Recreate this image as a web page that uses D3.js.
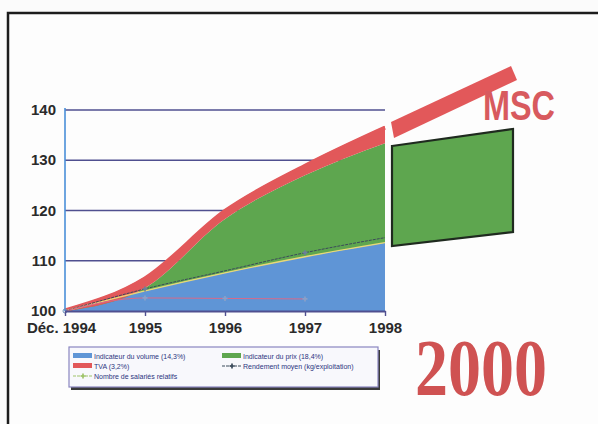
<!DOCTYPE html>
<html>
<head>
<meta charset="utf-8">
<script src="https://cdn.jsdelivr.net/npm/d3@7"></script>
<style>
  body { margin: 0; background: #fbfbfb; }
  svg { display: block; }
</style>
</head>
<body>
<svg width="598" height="424"></svg>
<script>
// data
let years = ["Déc. 1994", "1995", "1996", "1997", "1998"];
let yTicks = [100, 110, 120, 130, 140];
// cumulative tops of the stacked areas (index base 100)
let volumeTop = [100, 104, 107.6, 110.8, 113.6];
let prixTop = [100, 104.6, 118.3, 127, 133.4];
let tvaTop = [100.4, 106.8, 120.2, 129.2, 136.8];
// thin lines
let rendement = [100, 104.4, 108, 111.6, 114.6];
let salaries = [100, 102.6, 102.5, 102.4];
let legendLabels = [
  ["Indicateur du volume (14,3%)", "Indicateur du prix (18,4%)"],
  ["TVA (3,2%)", "Rendement moyen (kg/exploitation)"],
  ["Nombre de salariés relatifs", null]
];

const width = 598;
const height = 424;

let svg = d3.select("svg");

// outer frame
svg.append("rect")
  .attr("x", 8).attr("y", 13)
  .attr("width", 610).attr("height", 430)
  .attr("fill", "#fdfdfd")
  .attr("stroke", "#1c1c1c")
  .attr("stroke-width", 2.5);

let xScale = d3.scalePoint()
  .domain(years)
  .range([65, 385]);

let yScale = d3.scaleLinear()
  .domain([100, 140])
  .range([311, 110]);

// gridlines behind everything
svg.append("g")
  .selectAll("line")
  .data(yTicks.slice(1))
  .enter()
  .append("line")
    .attr("x1", xScale(years[0]))
    .attr("x2", xScale(years[years.length - 1]))
    .attr("y1", d => yScale(d))
    .attr("y2", d => yScale(d))
    .attr("stroke", "#4f4f8f")
    .attr("stroke-width", 1.6);

let idx = years.map((d, i) => i);
let curve = d3.curveMonotoneX;

function band(lower, upper) {
  return d3.area()
    .curve(curve)
    .x(i => xScale(years[i]))
    .y0(i => yScale(lower ? lower[i] : 100))
    .y1(i => yScale(upper[i]))(idx);
}

function lineOf(values, ids, shift) {
  return d3.line()
    .curve(curve)
    .x(i => xScale(years[i]))
    .y(i => yScale(values[i]) + (shift || 0))(ids);
}

// stacked areas: volume, prix, tva
svg.append("path").attr("d", band(null, volumeTop)).attr("fill", "#5f95d6");
svg.append("path").attr("d", band(volumeTop, prixTop)).attr("fill", "#5ea64f");
svg.append("path").attr("d", band(prixTop, tvaTop)).attr("fill", "#e2585a");

// red outline to thicken the top edge
svg.append("path")
  .attr("d", lineOf(tvaTop, idx, 1.5))
  .attr("fill", "none")
  .attr("stroke", "#e2585a")
  .attr("stroke-width", 4);

// yellow edge on top of the volume area
svg.append("path")
  .attr("d", lineOf(volumeTop, idx))
  .attr("fill", "none")
  .attr("stroke", "#e8d878")
  .attr("stroke-width", 1.4);

// rendement line
svg.append("path")
  .attr("d", lineOf(rendement, idx))
  .attr("fill", "none")
  .attr("stroke", "#3b4a5a")
  .attr("stroke-width", 1)
  .attr("stroke-dasharray", "3,1");

// salariés line
let salIdx = salaries.map((d, i) => i);
svg.append("path")
  .attr("d", lineOf(salaries, salIdx))
  .attr("fill", "none")
  .attr("stroke", "#d76a8a")
  .attr("stroke-width", 1);

svg.append("g")
  .selectAll("path")
  .data(salIdx.slice(1))
  .enter()
  .append("path")
    .attr("d", d3.symbol(d3.symbolCross, 14))
    .attr("transform", i => `translate(${xScale(years[i])},${yScale(salaries[i])})`)
    .attr("fill", "#8aa0c8");

svg.append("g")
  .selectAll("path")
  .data([1, 3])
  .enter()
  .append("path")
    .attr("d", d3.symbol(d3.symbolCross, 14))
    .attr("transform", i => `translate(${xScale(years[i])},${yScale(rendement[i])})`)
    .attr("fill", "#6b7f9a");

// y axis line (blue)
svg.append("line")
  .attr("x1", 65).attr("x2", 65)
  .attr("y1", yScale(100)).attr("y2", yScale(140) - 2)
  .attr("stroke", "#4a8fd8")
  .attr("stroke-width", 1.6);

// y axis labels
svg.append("g")
  .selectAll("text")
  .data(yTicks)
  .enter()
  .append("text")
    .attr("x", 56)
    .attr("y", d => yScale(d) + 5)
    .attr("text-anchor", "end")
    .style("font-family", "'Liberation Sans Narrow', 'Arial Narrow', 'Liberation Sans', sans-serif")
    .style("font-weight", "bold")
    .style("font-size", "15px")
    .attr("fill", "#2a2a2a")
    .text(d => d);

svg.append("circle")
  .attr("cx", 65).attr("cy", yScale(100)).attr("r", 2)
  .attr("fill", "none").attr("stroke", "#6b8fb8");

// x axis
let xAxis = d3.axisBottom(xScale)
  .tickSize(5)
  .tickSizeOuter(0)
  .tickPadding(6);

let gx = svg.append("g")
  .attr("transform", `translate(0, ${yScale(100)})`)
  .call(xAxis);

gx.select(".domain")
  .attr("stroke", "#4f4f8f")
  .attr("stroke-width", 1.8);
gx.selectAll(".tick line")
  .attr("stroke", "#4f4f8f")
  .attr("stroke-width", 1.4);
gx.selectAll("text")
  .style("font-family", "'Liberation Sans Narrow', 'Arial Narrow', 'Liberation Sans', sans-serif")
  .style("font-weight", "bold")
  .style("font-size", "15px")
  .attr("fill", "#2a2a2a");
gx.selectAll(".tick").filter(d => d === years[0]).select("text")
  .attr("dx", "-4px");

// legend
let legend = svg.append("g");
legend.append("rect")
  .attr("x", 71).attr("y", 350)
  .attr("width", 309).attr("height", 40)
  .attr("fill", "#3a3a3a");
legend.append("rect")
  .attr("x", 69).attr("y", 347)
  .attr("width", 309).attr("height", 40)
  .attr("fill", "#f8f8fc")
  .attr("stroke", "#8a86c0")
  .attr("stroke-width", 1.2);

let swatchFill = [["#5f95d6", "#5ea64f"], ["#e2585a", null], [null, null]];
let lineSwatch = [[null, null], [null, "#3b4a5a"], ["#9fc36a", null]];
let rowY = [356, 366, 376];
let colX = [73, 222];

legendLabels.forEach((row, r) => {
  row.forEach((label, c) => {
    if (!label) return;
    let x0 = colX[c];
    let y0 = rowY[r];
    if (swatchFill[r][c]) {
      legend.append("rect")
        .attr("x", x0).attr("y", y0 - 3)
        .attr("width", 19).attr("height", 5)
        .attr("fill", swatchFill[r][c]);
    } else if (lineSwatch[r][c]) {
      legend.append("line")
        .attr("x1", x0).attr("x2", x0 + 19)
        .attr("y1", y0).attr("y2", y0)
        .attr("stroke", lineSwatch[r][c])
        .attr("stroke-dasharray", "3,1");
      legend.append("path")
        .attr("d", d3.symbol(d3.symbolCross, 14))
        .attr("transform", `translate(${x0 + 10},${y0})`)
        .attr("fill", lineSwatch[r][c]);
    }
    legend.append("text")
      .attr("x", x0 + 21)
      .attr("y", y0 + 2.5)
      .style("font-family", "'Liberation Sans', sans-serif")
      .style("font-size", "7px")
      .attr("fill", "#2c3580")
      .text(label);
  });
});

// MSC decoration: red band, green block and text
svg.append("polygon")
  .attr("points", [[391, 122], [511, 66], [517, 80], [394, 138]].join(" "))
  .attr("fill", "#e2585a");

svg.append("polygon")
  .attr("points", [[392, 146], [513, 129], [513, 232], [392, 246]].join(" "))
  .attr("fill", "#5ea64f")
  .attr("stroke", "#1f2a1f")
  .attr("stroke-width", 2.2);

svg.append("text")
  .attr("x", 483)
  .attr("y", 120)
  .attr("textLength", 72)
  .attr("lengthAdjust", "spacingAndGlyphs")
  .style("font-family", "'Liberation Sans', Arial, sans-serif")
  .style("font-weight", "bold")
  .style("font-size", "42px")
  .attr("fill", "#d85a5e")
  .text("MSC");

svg.append("text")
  .attr("x", 415)
  .attr("y", 395)
  .attr("textLength", 132)
  .attr("lengthAdjust", "spacingAndGlyphs")
  .style("font-family", "'Liberation Serif', 'DejaVu Serif', serif")
  .style("font-weight", "bold")
  .style("font-size", "80px")
  .attr("fill", "#cf5252")
  .text("2000");
</script>
</body>
</html>
